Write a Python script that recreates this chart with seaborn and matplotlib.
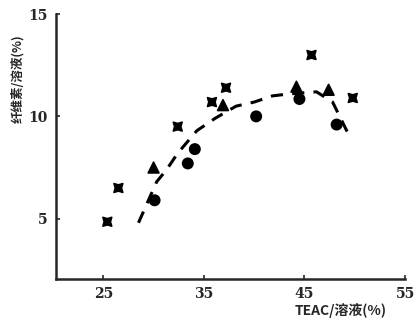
import pandas as pd
import matplotlib
matplotlib.use("Agg")
import matplotlib.pyplot as plt
import seaborn as sns

# values
cross_x = [25.4, 26.5, 32.4, 35.8, 37.2, 45.7, 49.8]
cross_y = [4.85, 6.5, 9.5, 10.7, 11.4, 13.0, 10.9]
circle_x = [30.1, 33.4, 34.1, 40.2, 44.5, 48.2]
circle_y = [5.9, 7.7, 8.4, 10.0, 10.85, 9.6]
tri_x = [30.0, 36.9, 44.2, 47.4]
tri_y = [7.5, 10.55, 11.45, 11.3]
curve_x = [28.5, 30.3, 31.3, 32.4, 34.3, 36.1, 38.2, 40.0, 41.8, 43.5, 46.2, 47.8, 48.5, 49.3]
curve_y = [4.8, 6.8, 7.4, 8.2, 9.3, 9.9, 10.5, 10.7, 11.0, 11.1, 11.2, 10.7, 10.0, 9.2]

xticks = [25, 35, 45, 55]
yticks = [5, 10, 15]

pts = pd.concat([
    pd.DataFrame({"x": cross_x, "y": cross_y, "kind": "cross"}),
    pd.DataFrame({"x": circle_x, "y": circle_y, "kind": "circle"}),
    pd.DataFrame({"x": tri_x, "y": tri_y, "kind": "tri"}),
])
curve = pd.DataFrame({"x": curve_x, "y": curve_y})

sns.set_style("ticks")
plt.rcParams["font.family"] = ["Noto Sans CJK SC", "DejaVu Sans"]

fig = plt.figure(figsize=(4.18, 3.2), dpi=100)
ax = fig.add_axes([0.134, 0.128, 0.835, 0.828])

sns.lineplot(data=curve, x="x", y="y", sort=False, color="black", lw=2.2,
             ax=ax, legend=False)
ax.lines[0].set_dashes([4, 3])

sns.scatterplot(data=pts, x="x", y="y", style="kind",
                markers={"cross": (4, 1, 45), "circle": "o", "tri": "^"},
                size="kind", sizes={"cross": 80, "circle": 55, "tri": 60},
                color="black", edgecolor="black", linewidth=1.2,
                legend=False, ax=ax)

ax.set_xlim(20.3, 55)
ax.set_ylim(2.05, 15)
ax.set_xticks(xticks)
ax.set_yticks(yticks)
ax.tick_params(direction="in", length=3, width=1.2, pad=6)
for lab in ax.get_xticklabels() + ax.get_yticklabels():
    lab.set_family("DejaVu Serif")
    lab.set_fontweight("bold")
    lab.set_fontsize(10)
sns.despine(ax=ax)
for sp in ["left", "bottom"]:
    ax.spines[sp].set_linewidth(1.8)

ax.set_xlabel("")
ax.set_ylabel("")
fig.text(0.815, 0.03, "TEAC/溶液(%)", ha="center", va="center",
         fontsize=10, fontweight="bold")
fig.text(0.043, 0.755, "纤维素/溶液(%)", ha="center", va="center",
         rotation=90, fontsize=9, fontweight="bold")

fig.savefig("out.png", dpi=100)
